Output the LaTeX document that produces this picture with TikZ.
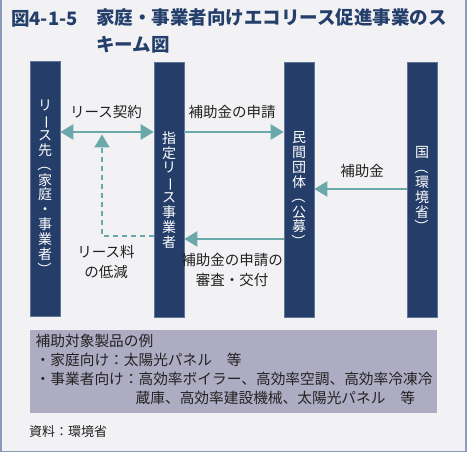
\documentclass[tikz,border=0pt]{standalone}
\usepackage{fontspec}
\usepackage{graphicx}
\newfontfamily\cjk{Noto Sans CJK JP}
\usetikzlibrary{arrows.meta}
\definecolor{bgc}{HTML}{F2F2F5}
\definecolor{framec}{HTML}{8A9AB8}
\definecolor{barc}{HTML}{243D69}
\definecolor{teal}{HTML}{6AA8AA}
\definecolor{boxc}{HTML}{AEACC3}
\definecolor{titlec}{HTML}{253F6B}
\definecolor{txt}{HTML}{222222}
\newcommand{\vlong}{\rotatebox[origin=c]{-90}{ー}}
\newcommand{\vop}{\rotatebox[origin=c]{-90}{（}}
\newcommand{\vcp}{\rotatebox[origin=c]{-90}{）}}
\tikzset{
  bar/.style={fill=barc, draw=framec!60!barc, line width=0.6pt, minimum width=30pt, minimum height=255pt, inner sep=0pt, anchor=north},
  vtext/.style={text=white, align=center, font=\cjk\fontsize{14}{14.9}\selectfont, inner sep=0pt},
  lbl/.style={text=txt, font=\cjk\fontsize{14.5}{20}\selectfont, align=center, inner sep=0pt},
  arr/.style={teal, line width=2.4pt, -{Triangle[length=13pt,width=15pt]}},
  darr/.style={teal, line width=2.4pt, {Triangle[length=13pt,width=15pt]}-{Triangle[length=13pt,width=15pt]}},
  dsh/.style={teal, line width=2pt, dash pattern=on 5pt off 4pt, -{Triangle[length=13pt,width=15pt]}},
}
\begin{document}
\begin{tikzpicture}[x=1pt,y=-1pt]
\useasboundingbox (0,0) rectangle (469,454);
\fill[white] (0,0) rectangle (469,454);
\filldraw[fill=bgc, draw=framec, line width=1.5pt] (0.75,-2) rectangle (465.75,451.75);
% title
\node[anchor=west, text=titlec, font=\cjk\bfseries\fontsize{18.5}{27}\selectfont, inner sep=0pt] (t1) at (11,19) {図4-1-5};
\node[anchor=north west, text=titlec, font=\cjk\bfseries\fontsize{18.5}{27}\selectfont, inner sep=0pt, align=left, text width=370pt] (t2) at (96,8.5) {家庭・事業者向けエコリース促進事業のス\\キーム図};
% bars
\node[bar] (b1) at (45,61) {};
\node[bar] (b2) at (169,62) {};
\node[bar] (b3) at (299,62) {};
\node[bar] (b4) at (422,62) {};
\node[vtext] (v1) at (45,188) {リ\\\vlong\\ス\\先\\\vop\\家\\庭\\・\\事\\業\\者\\\vcp};
\node[vtext] (v2) at (169,190) {指\\定\\リ\\\vlong\\ス\\事\\業\\者};
\node[vtext] (v3) at (299,190) {民\\間\\団\\体\\\vop\\公\\募\\\vcp};
\node[vtext] (v4) at (422,190) {国\\\vop\\環\\境\\省\\\vcp};
% coordinates on bars
\coordinate (b1a) at (b1.east |- 0,132);
\coordinate (b2a) at (b2.west |- 0,132);
\coordinate (b2b) at (b2.east |- 0,132);
\coordinate (b3a) at (b3.west |- 0,132);
\coordinate (b3c) at (b3.east |- 0,189);
\coordinate (b4c) at (b4.west |- 0,189);
\coordinate (b3d) at (b3.west |- 0,239);
\coordinate (b2d) at (b2.east |- 0,239);
\coordinate (b2e) at (b2.west |- 0,236);
\coordinate (dc) at (102,236);
\coordinate (dt) at (102,134.5);
% arrows
\draw[darr] (b1a) -- (b2a);
\draw[arr] (b2b) -- (b3a);
\draw[arr] (b4c) -- (b3c);
\draw[arr] (b3d) -- (b2d);
\draw[dsh] (b2e) -- (dc) -- (dt);
% labels
\node[lbl] (l1) at (106,112) {リース契約};
\node[lbl] (l2) at (232,112) {補助金の申請};
\node[lbl] (l3) at (362,171) {補助金};
\node[lbl] (l4) at (232,270) {補助金の申請の\\審査・交付};
\node[lbl] (l5) at (106,262) {リース料\\の低減};
% bottom box
\node[fill=boxc, minimum width=407pt, minimum height=83pt, anchor=north west, inner sep=0pt] (box) at (30,330) {};
\node[anchor=north west, text=txt, font=\cjk\fontsize{14.7}{19}\selectfont, inner sep=0pt, align=left] (bt) at (35.5,334) {補助対象製品の例\\・家庭向け：太陽光パネル　等\\・事業者向け：高効率ボイラー、高効率空調、高効率冷凍冷\\\hspace*{6.8em}蔵庫、高効率建設機械、太陽光パネル　等};
\node[anchor=west, text=txt, font=\cjk\fontsize{13}{16}\selectfont, inner sep=0pt] (src) at (29,432) {資料：環境省};
\end{tikzpicture}
\end{document}
